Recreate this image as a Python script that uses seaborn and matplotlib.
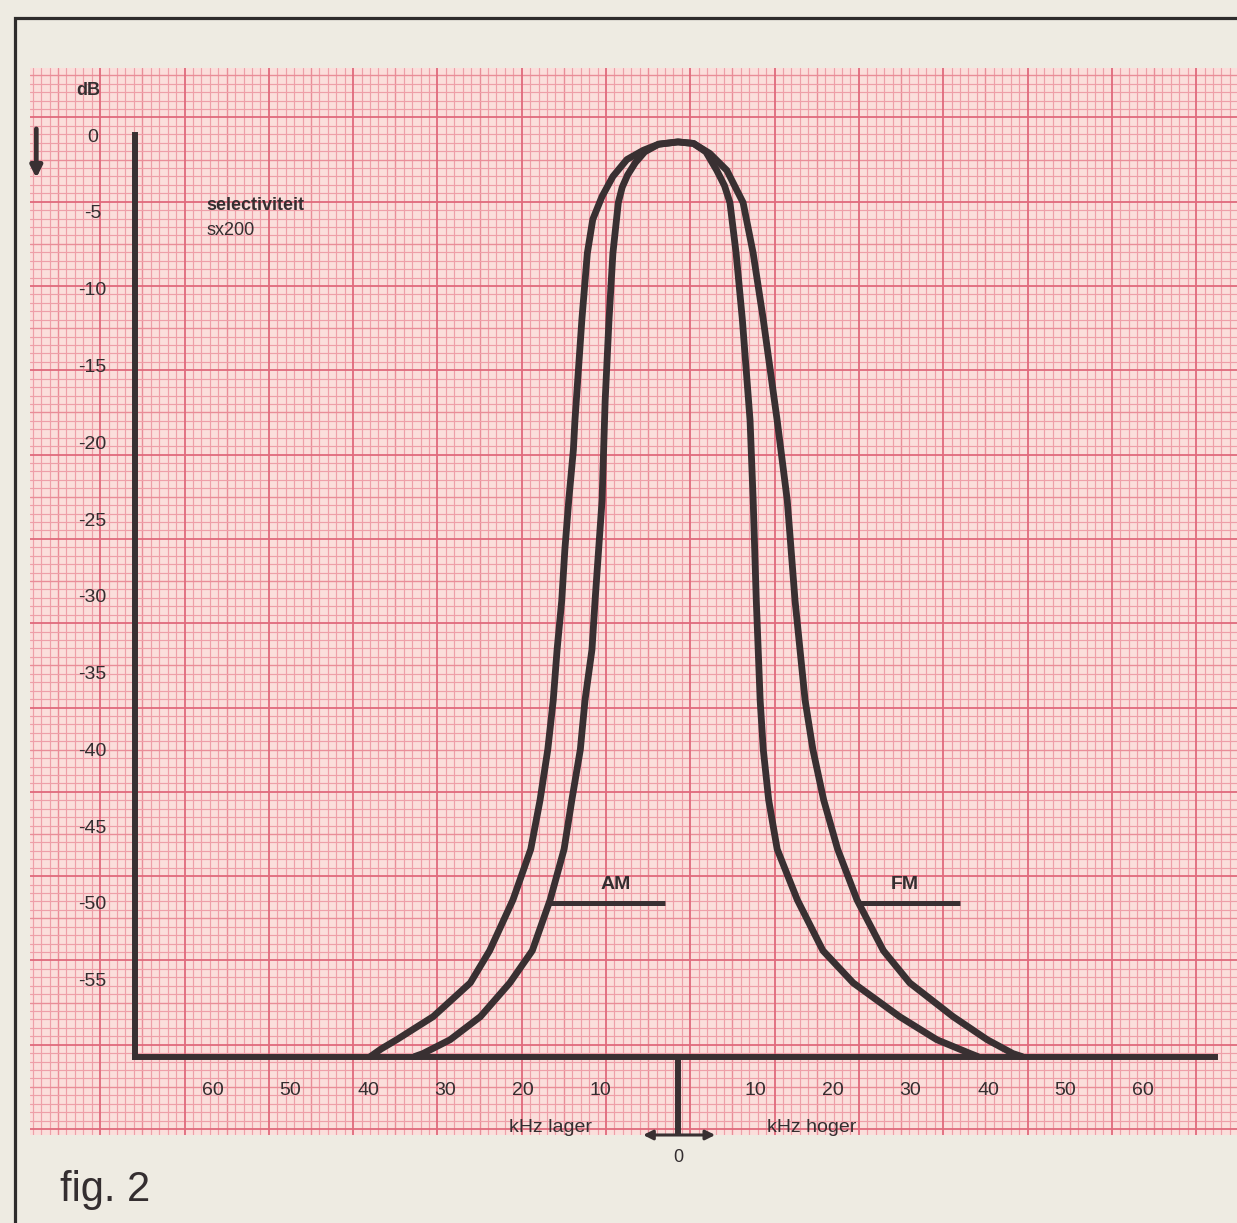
import numpy as np
import pandas as pd
import matplotlib
matplotlib.use("Agg")
import matplotlib.pyplot as plt
import matplotlib.font_manager as fm
import seaborn as sns

# ---- data: selectivity curves (kHz offset, attenuation in dB) ----
am_khz = [-34.0, -32.9, -29.4, -25.5, -21.7, -18.8, -16.5, -14.7, -13.7, -12.6,
          -12.0, -11.1, -10.7, -9.8, -9.4, -8.9, -8.4, -7.7, -7.2, -6.5,
          -5.5, -4.3, -2.5, 0.0, 2.0, 3.6, 5.0, 6.0, 6.7, 7.5,
          8.3, 9.3, 9.7, 10.1, 10.6, 11.0, 11.7, 12.8, 15.4, 18.7,
          22.6, 28.6, 33.4, 37.7, 38.7]
am_db = [-60.0, -59.8, -58.9, -57.4, -55.2, -53.1, -49.8, -46.5, -43.3, -40.0,
         -36.8, -33.5, -30.3, -23.8, -17.3, -12.0, -7.7, -4.4, -3.4, -2.6,
         -1.8, -1.1, -0.6, -0.45, -0.55, -1.1, -2.3, -3.3, -4.4, -7.7,
         -12.0, -18.6, -23.8, -30.3, -36.8, -40.0, -43.3, -46.5, -49.8, -53.1,
         -55.2, -57.4, -58.9, -59.8, -60.0]

fm_khz = [-39.7, -38.3, -36.3, -31.6, -26.8, -24.3, -21.3, -19.0, -17.8, -16.8,
          -16.1, -15.6, -15.0, -14.6, -14.1, -13.5, -13.3, -12.4, -11.7, -11.0,
          -9.8, -8.4, -6.6, -4.5, -2.5, 0.0, 2.0, 4.1, 6.3, 8.4,
          9.7, 11.0, 12.8, 14.1, 15.1, 16.4, 17.4, 18.8, 20.6, 23.1,
          26.5, 29.9, 35.5, 39.9, 43.2, 44.4]
fm_db = [-60.0, -59.5, -58.9, -57.4, -55.2, -53.1, -49.8, -46.5, -43.3, -40.0,
         -36.8, -33.5, -30.3, -27.0, -23.8, -20.5, -18.6, -12.0, -7.7, -5.5,
         -4.0, -2.7, -1.6, -1.0, -0.6, -0.45, -0.55, -1.2, -2.3, -4.4,
         -7.7, -12.0, -18.6, -23.8, -30.3, -36.8, -40.0, -43.3, -46.5, -49.8,
         -53.1, -55.2, -57.4, -58.9, -59.8, -60.0]

db_ticks = [0, -5, -10, -15, -20, -25, -30, -35, -40, -45, -50, -55]
khz_ticks = [-60, -50, -40, -30, -20, -10, 10, 20, 30, 40, 50, 60]
khz_labels = ["60", "50", "40", "30", "20", "10", "10", "20", "30", "40", "50", "60"]

# ---- layout (pixels) ----
W, H = 1237, 1223
DPI = 100
PAPER = (30, 68, 1237, 1135)          # left, top, right, bottom
X0_PX, PX_PER_KHZ = 678.0, 7.75       # 0 kHz position, scale
Y0_PX, PX_PER_DB = 135.0, 15.36       # 0 dB position, scale
MM = 8.43                              # graph paper: pixels per mm

ink = "#393032"
txt = "#342e30"

names = {f.name for f in fm.fontManager.ttflist}
narrow = "Liberation Sans Narrow" if "Liberation Sans Narrow" in names else "Liberation Sans"

sns.set_style("white")
plt.rcParams["font.family"] = ["Liberation Sans", "DejaVu Sans"]

fig = plt.figure(figsize=(W / DPI, H / DPI), dpi=DPI)
fig.patch.set_facecolor("#eeebe2")

def frac_rect(l, t, r, b):
    return [l / W, 1 - b / H, (r - l) / W, (b - t) / H]

# ---- page frame and caption ----
page = fig.add_axes([0, 0, 1, 1])
page.set_xlim(0, W)
page.set_ylim(H, 0)
page.axis("off")
page.plot([15, 15, W + 5], [H + 5, 18, 18], color="#2e2c2c", lw=2.3,
          solid_joinstyle="miter")
page.text(60, 1190, "fig. 2", fontsize=30, color=txt, va="center", ha="left")

# ---- graph paper ----
paper = fig.add_axes(frac_rect(*PAPER))
l, t, r, b = PAPER
x_lo = 70 - (606 - l) / MM
x_hi = x_lo + (r - l) / MM
y_lo = 20 - (201.7 - t) / MM
y_hi = y_lo + (b - t) / MM
paper.set_xlim(x_lo, x_hi)
paper.set_ylim(y_hi, y_lo)
paper.set_facecolor("#fbdedb")
for s in paper.spines.values():
    s.set_visible(False)
paper.set_xticks([])
paper.set_yticks([])

def grid_style(k):
    if k % 10 == 0:
        return "#e06a7c", 1.3
    if k % 5 == 0:
        return "#e98d98", 1.0
    return "#ee9fa8", 0.85

for k in range(int(np.ceil(x_lo)), int(np.floor(x_hi)) + 1):
    c, w = grid_style(k)
    paper.axvline(k, color=c, lw=w, zorder=3 if k % 10 == 0 else 2)
for k in range(int(np.ceil(y_lo)), int(np.floor(y_hi)) + 1):
    c, w = grid_style(k)
    paper.axhline(k, color=c, lw=w, zorder=3 if k % 10 == 0 else 2)

# ---- chart axes ----
ax = fig.add_axes(frac_rect(*PAPER))
ax.patch.set_alpha(0)
ax.set_xlim((l - X0_PX) / PX_PER_KHZ, (r - X0_PX) / PX_PER_KHZ)
ax.set_ylim(-(b - Y0_PX) / PX_PER_DB, (Y0_PX - t) / PX_PER_DB)

df = pd.concat([
    pd.DataFrame({"khz": am_khz, "db": am_db, "mode": "AM"}),
    pd.DataFrame({"khz": fm_khz, "db": fm_db, "mode": "FM"}),
], ignore_index=True)
sns.lineplot(data=df, x="khz", y="db", hue="mode", units="mode",
             palette={"AM": ink, "FM": ink}, estimator=None, sort=False,
             legend=False, linewidth=4.9, ax=ax,
             solid_joinstyle="round", solid_capstyle="round")

for side in ("top", "right"):
    ax.spines[side].set_visible(False)
ax.spines["left"].set_position(("data", -70))
ax.spines["left"].set_bounds(-60, 0)
ax.spines["bottom"].set_position(("data", -60))
ax.spines["bottom"].set_bounds(-70, 69.3)
for side in ("left", "bottom"):
    ax.spines[side].set_color(ink)
    ax.spines[side].set_linewidth(4.3)
    ax.spines[side].set_capstyle("projecting")

ax.set_yticks(db_ticks)
ax.set_yticklabels([str(v) for v in db_ticks])
ax.set_xticks(khz_ticks)
ax.set_xticklabels(khz_labels)
ax.tick_params(axis="y", direction="out", length=9, width=2.2, pad=22,
               labelsize=14, colors=ink, labelcolor=txt)
ax.tick_params(axis="x", direction="out", length=8, width=2.2, pad=10,
               labelsize=14, colors=ink, labelcolor=txt)
for lab in ax.get_yticklabels():
    lab.set_horizontalalignment("center")
for lab in ax.get_xticklabels() + ax.get_yticklabels():
    lab.set_family(narrow)
ax.set_xlabel("")
ax.set_ylabel("")

# centre marker below the frequency axis
y_foot = -(1135 - Y0_PX) / PX_PER_DB
ax.plot([0, 0], [-60, y_foot], color=ink, lw=4.3, clip_on=False,
        solid_capstyle="butt")
ax.annotate("", xy=(-4.5, y_foot), xytext=(4.8, y_foot),
            arrowprops=dict(arrowstyle="<|-|>", color=ink, lw=2.2,
                            mutation_scale=14, shrinkA=0, shrinkB=0),
            annotation_clip=False)
ax.text(0, -(1158 - Y0_PX) / PX_PER_DB, "0", ha="center", va="center",
        fontsize=13, color=txt, family=narrow, clip_on=False)
ax.text(-16.4, -(1128 - Y0_PX) / PX_PER_DB, "kHz lager", ha="center",
        va="center", fontsize=14, color=txt, family=narrow)
ax.text(17.3, -(1128 - Y0_PX) / PX_PER_DB, "kHz hoger", ha="center",
        va="center", fontsize=14, color=txt, family=narrow)

# dB unit and direction arrow
ax.text(-76.1, 2.9, "dB", ha="center", va="center", fontsize=13,
        fontweight="bold", color=txt, family=narrow)
ax.annotate("", xy=(-82.8, -2.8), xytext=(-82.8, 0.4),
            arrowprops=dict(arrowstyle="-|>", color=ink, lw=3.4,
                            mutation_scale=17, shrinkA=0, shrinkB=0),
            annotation_clip=False)

# title block
ax.text(-60.8, -4.56, "selectiviteit", ha="left", va="center", fontsize=13,
        fontweight="bold", color=txt)
ax.text(-60.8, -6.2, "sx200", ha="left", va="center", fontsize=13, color=txt)

# curve labels
ax.plot([-16.6, -1.7], [-50, -50], color=ink, lw=3.6, solid_capstyle="butt")
ax.text(-8.0, -48.8, "AM", ha="center", va="center", fontsize=14,
        fontweight="bold", color=txt)
ax.plot([23.1, 36.4], [-50, -50], color=ink, lw=3.6, solid_capstyle="butt")
ax.text(29.3, -48.8, "FM", ha="center", va="center", fontsize=14,
        fontweight="bold", color=txt)

fig.savefig("out.png", dpi=DPI, facecolor=fig.get_facecolor())
